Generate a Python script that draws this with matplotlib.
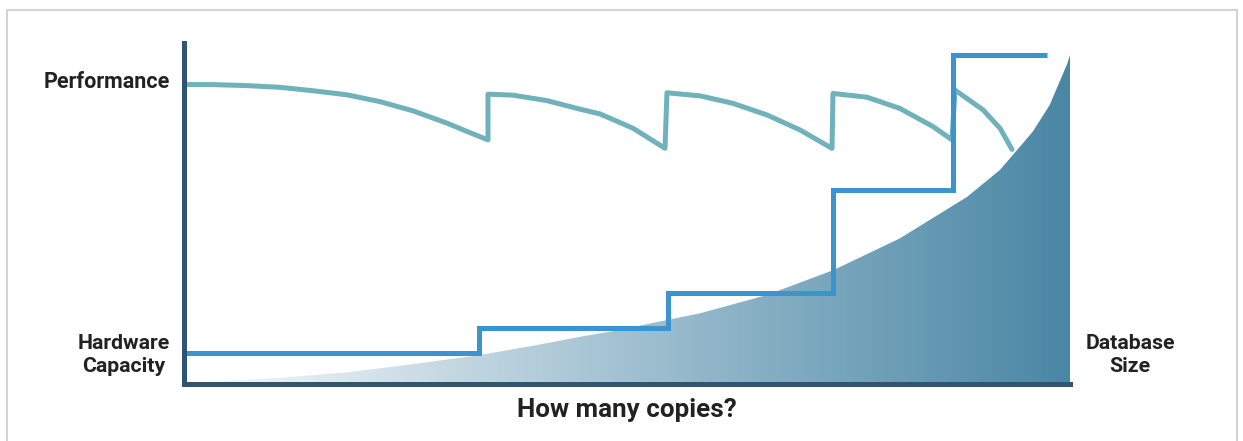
import numpy as np
import matplotlib.pyplot as plt
from matplotlib.colors import LinearSegmentedColormap
from matplotlib.patches import Rectangle

# chart values (x: 0-100 along "copies", y: 0-100 up the axis)
hw_x = [0, 33.3, 54.6, 73.3, 86.8, 97.4]
hw_y = [9.2, 16.5, 26.7, 56.9, 96.5, 96.5]

perf_x = [0.3, 3.27, 7.11, 10.84, 14.56, 18.40, 22.12, 25.85, 29.68, 32.28, 34.31,
          34.31, 37.13, 40.97, 44.70, 46.95, 50.68, 54.29,
          54.51, 58.24, 61.96, 65.80, 69.53, 73.14,
          73.25, 77.09, 80.81, 84.54, 86.68,
          87.02, 90.18, 92.10, 93.45]
perf_y = [87.8, 87.8, 87.5, 87.0, 86.0, 84.8, 82.8, 80.1, 76.5, 73.7, 71.6,
          85.0, 84.7, 83.1, 80.6, 79.2, 75.0, 69.1,
          85.4, 84.5, 82.3, 78.9, 74.5, 69.1,
          85.2, 84.1, 80.8, 75.5, 71.6,
          86.2, 80.4, 75.0, 68.8]

db_x = [2.0, 3.3, 10.8, 18.4, 25.8, 33.4, 40.0, 44.6, 48.4, 54.6, 58.2, 65.8,
        73.3, 80.8, 88.4, 92.1, 95.8, 97.7, 98.9, 99.7, 100.0]
db_y = [0.0, 0.7, 1.8, 3.4, 5.8, 8.5, 11.5, 13.8, 15.5, 18.8, 20.7, 26.1,
        33.4, 42.7, 54.9, 62.8, 74.0, 81.8, 89.1, 94.0, 96.5]

axis_col = '#2e5672'
perf_col = '#6fb2bb'
hw_col = '#3b93cf'
txt_col = '#222222'

W, H = 1243, 441
fig = plt.figure(figsize=(W / 100, H / 100), dpi=100)
ax = fig.add_axes([184 / W, 1 - 384 / H, (1070 - 184) / W, (384 - 43) / H])

# database size: area with a left-to-right gradient
poly = ax.fill_between(db_x, 0, db_y, color='none', lw=0)
cmap = LinearSegmentedColormap.from_list('db', ['#f5f8fa', '#4a87a5'])
grad = np.linspace(0, 1, 256).reshape(1, -1)
im = ax.imshow(grad, extent=[db_x[0], db_x[-1], 0, 100], aspect='auto',
               cmap=cmap, zorder=1, interpolation='bilinear')
im.set_clip_path(poly.get_paths()[0], transform=ax.transData)

ax.plot(perf_x, perf_y, color=perf_col, lw=3.6, zorder=2,
        solid_capstyle='round', solid_joinstyle='round')
ax.plot(hw_x, hw_y, color=hw_col, lw=3.6, zorder=3, drawstyle='steps-post',
        solid_capstyle='butt', solid_joinstyle='miter')

ax.set_xlim(0, 100)
ax.set_ylim(0, 100)
ax.set_xticks([])
ax.set_yticks([])
for s in ['top', 'right']:
    ax.spines[s].set_visible(False)
for s in ['left', 'bottom']:
    ax.spines[s].set_color(axis_col)
    ax.spines[s].set_linewidth(3.6)
    ax.spines[s].set_zorder(5)
    ax.spines[s].set_capstyle('projecting')

font = dict(family='Roboto', weight='bold', color=txt_col)
fig.text(170 / W, 1 - 82 / H, 'Performance', ha='right', va='center',
         fontsize=15.5, **font)
fig.text(124 / W, 1 - 355 / H, 'Hardware\nCapacity', ha='center', va='center',
         fontsize=15.3, linespacing=1.28, **font)
fig.text(1130 / W, 1 - 355 / H, 'Database\nSize', ha='center', va='center',
         fontsize=15.3, linespacing=1.28, **font)
fig.text(627 / W, 1 - 410 / H, 'How many copies?', ha='center', va='center',
         fontsize=18.7, **font)

# light frame around the graphic
fig.patches.append(Rectangle((7 / W, -0.05), 1230 / W, 1 - 10 / H + 0.05,
                             transform=fig.transFigure, fill=False,
                             edgecolor='#d4d4d4', lw=1.5))

fig.savefig('out.png', dpi=100)
